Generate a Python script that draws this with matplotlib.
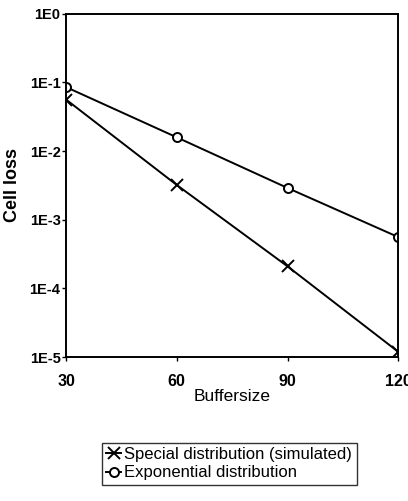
import matplotlib
matplotlib.use("Agg")
import matplotlib.pyplot as plt

# ============ DATA ============
buffersize = [30, 60, 90, 120]
special_loss = [5.6e-2, 3.2e-3, 2.1e-4, 1.2e-5]      # simulated
exponential_loss = [8.5e-2, 1.58e-2, 2.9e-3, 5.6e-4]
x_ticks = [30, 60, 90, 120]
y_ticks = [1e0, 1e-1, 1e-2, 1e-3, 1e-4, 1e-5]
y_labels = ["1E0", "1E-1", "1E-2", "1E-3", "1E-4", "1E-5"]
# ==============================

plt.rcParams["font.family"] = ["Liberation Sans", "DejaVu Sans"]

fig = plt.figure(figsize=(4.08, 5.01), dpi=100)
ax = fig.add_axes([0.162, 0.287, 0.814, 0.686])

ax.plot(buffersize, special_loss, color="black", lw=1.4, marker="x",
        ms=8, mew=1.4, label="Special distribution (simulated)")
ax.plot(buffersize, exponential_loss, color="black", lw=1.4, marker="o",
        ms=6.5, mfc="white", mew=1.4, label="Exponential distribution")

ax.set_yscale("log")
ax.set_xlim(30, 120)
ax.set_ylim(1e-5, 1e0)
ax.set_xticks(x_ticks)
ax.set_xticklabels([str(v) for v in x_ticks], fontsize=11.5, fontweight="bold")
ax.set_yticks(y_ticks)
ax.set_yticklabels(y_labels, fontsize=10.5, fontweight="bold")
ax.minorticks_off()
ax.tick_params(axis="y", length=3, width=1, pad=1)
ax.tick_params(axis="x", length=3, width=1, pad=9)
for s in ax.spines.values():
    s.set_linewidth(1.4)

ax.set_xlabel("Buffersize", fontsize=12.5, labelpad=0)
ax.set_ylabel("Cell loss", fontsize=13, fontweight="bold")
ax.yaxis.set_label_coords(-0.136, 0.50)

leg = fig.legend(loc="upper left", bbox_to_anchor=(0.25, 0.116), ncol=1,
                 fontsize=12, frameon=True, fancybox=False, handlelength=0.9,
                 handletextpad=0.2, borderpad=0.25, labelspacing=0.2,
                 borderaxespad=0)
leg.get_frame().set_edgecolor("black")
leg.get_frame().set_linewidth(1.0)

fig.savefig("out.png", dpi=100)
